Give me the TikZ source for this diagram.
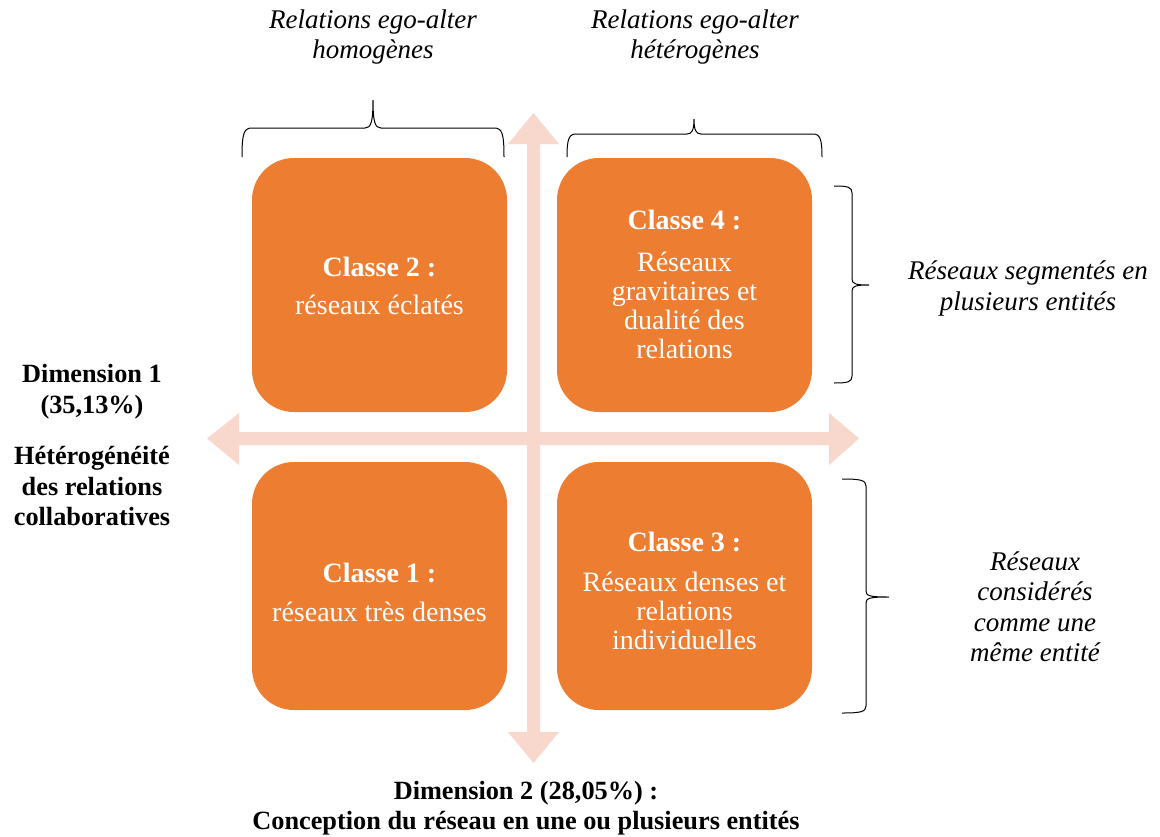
\documentclass[tikz,border=0pt]{standalone}
\usepackage{fontspec}
\setmainfont{Liberation Serif}
\definecolor{boxorange}{HTML}{ED7D31}
\definecolor{arrowpink}{HTML}{F8D7CC}
\tikzset{
  cbox/.style={fill=boxorange, draw=none, rounded corners=42pt, minimum width=255pt, inner sep=0pt},
  ctext/.style={text=white, align=center, font=\fontsize{28}{29}\selectfont, inner sep=0pt},
  lbl/.style={align=center, font=\fontsize{27}{30.5}\selectfont\itshape, inner sep=0pt},
  blbl/.style={align=center, font=\fontsize{26.3}{30.5}\selectfont\bfseries, inner sep=0pt},
  bracestyle/.style={draw=black, line width=1pt},
}
\begin{document}
\begin{tikzpicture}[x=1pt,y=-1pt]
\useasboundingbox (0,0) rectangle (1160,836);
\fill[white] (0,0) rectangle (1160,836);
% arrows
\fill[arrowpink] (207,438.5) -- (239,413) -- (239,432) -- (829,432) -- (829,413) -- (859,438.5)
  -- (829,465) -- (829,445) -- (239,445) -- (239,465) -- cycle;
\fill[arrowpink] (533.5,113) -- (559,144) -- (540,144) -- (540,732) -- (559,732) -- (533.5,763)
  -- (508,732) -- (527,732) -- (527,144) -- (508,144) -- cycle;
% boxes
\node[cbox, minimum height=254pt] (c2) at (379.5,285) {};
\node[cbox, minimum height=254pt] (c4) at (684.5,285) {};
\node[cbox, minimum height=248pt] (c1) at (379.5,586) {};
\node[cbox, minimum height=248pt] (c3) at (684.5,586) {};
\node[ctext] (t2) at (379.5,286) {\textbf{Classe 2 :}\\[9pt] réseaux éclatés};
\node[ctext] (t4) at (684.5,284) {\textbf{Classe 4 :}\\[13pt] Réseaux\\ gravitaires et\\ dualité des\\ relations};
\node[ctext] (t1) at (379.5,592) {\textbf{Classe 1 :}\\[10pt] réseaux très denses};
\node[ctext] (t3) at (684.5,591) {\textbf{Classe 3 :}\\[11pt] Réseaux denses et\\ relations\\ individuelles};
% labels
\node[lbl] (lh) at (373,37) {Relations ego-alter\\ homogènes};
\node[lbl] (lt) at (695,37) {Relations ego-alter\\ hétérogènes};
\node[lbl] (ls) at (1028,288.5) {Réseaux segmentés en\\ plusieurs entités};
\node[lbl] (lm) at (1035,606.5) {Réseaux\\ considérés\\ comme une\\ même entité};
\node[blbl] (d1) at (92,445) {Dimension 1\\ (35,13\%)\\[21pt] Hétérogénéité\\ des relations\\ collaboratives};
\node[blbl] (d2) at (526,808) {Dimension 2 (28,05\%) :\\ Conception du réseau en une ou plusieurs entités};
% braces
\draw[bracestyle] (242,157) .. controls (242,133) and (244,128) .. (252,128) -- (365,128)
  .. controls (371,128) and (373,122) .. (373,100) .. controls (373,122) and (375,128) .. (381,128)
  -- (494,128) .. controls (502,128) and (504,133) .. (504,157);
\draw[bracestyle] (567,157) .. controls (567,139) and (569,134) .. (576,134) -- (687,134)
  .. controls (692,134) and (694,130) .. (694,119) .. controls (694,130) and (696,134) .. (701,134)
  -- (813,134) .. controls (820,134) and (822,139) .. (822,157);
\draw[bracestyle] (834,186) .. controls (848,186) and (852,187) .. (852,193) -- (852,279)
  .. controls (852,284) and (856,285) .. (869,285) .. controls (856,285) and (852,286) .. (852,291)
  -- (852,376) .. controls (852,382) and (848,383) .. (834,383);
\draw[bracestyle] (842,479) .. controls (860,479) and (866,480) .. (866,486) -- (866,591)
  .. controls (866,596) and (870,597) .. (889,597) .. controls (870,597) and (866,598) .. (866,603)
  -- (866,706) .. controls (866,712) and (860,713) .. (842,713);
\end{tikzpicture}
\end{document}
